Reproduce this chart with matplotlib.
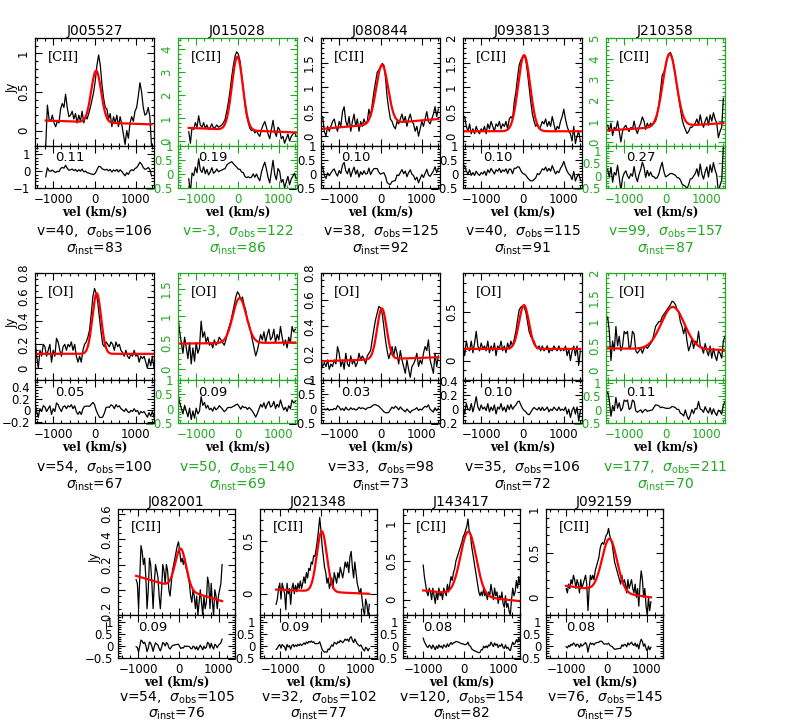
import numpy as np
import matplotlib
matplotlib.use('Agg')
import matplotlib.pyplot as plt
from matplotlib.ticker import MultipleLocator, FuncFormatter

GREEN = '#22a822'

# ---------------- data ----------------
names = ['J005527', 'J015028', 'J080844', 'J093813', 'J210358',
         '', '', '', '', '',
         'J082001', 'J021348', 'J143417', 'J092159']
lines = ['[CII]'] * 5 + ['[OI]'] * 5 + ['[CII]'] * 4
highlight = [False, True, False, False, True,
             False, True, False, False, True,
             False, False, False, False]
vel_fit = [40, -3, 38, 40, 99, 54, 50, 33, 35, 177, 54, 32, 120, 76]
sig_obs = [106, 122, 125, 115, 157, 100, 140, 98, 106, 211, 105, 102, 154, 145]
sig_inst = [83, 86, 92, 91, 87, 67, 69, 73, 72, 70, 76, 77, 82, 75]
resid_rms = ['0.11', '0.19', '0.10', '0.10', '0.27', '0.05', '0.09', '0.03',
             '0.10', '0.11', '0.09', '0.09', '0.08', '0.08']
# fitted Gaussian (drawn width) + linear continuum
fit_amp = [0.67, 3.2, 1.2, 1.55, 3.5, 0.51, 0.84, 0.38, 0.45, 0.87, 0.32, 0.57, 0.83, 0.6]
fit_width = [120, 132, 145, 145, 165, 105, 165, 115, 120, 280, 135, 125, 195, 185]
cont_left = [0.13, 0.57, 0.15, 0.10, 0.55, 0.12, 0.48, 0.14, 0.12, 0.45, 0.11, 0.04, 0.12, 0.13]
cont_right = [0.08, 0.37, 0.35, 0.10, 0.90, 0.12, 0.50, 0.17, 0.12, 0.42, -0.09, 0.00, -0.02, 0.00]

v_start = [-1180, -1180, -1400, -1400, -1400,
           -1440, -1440, -1440, -1440, -1440,
           -1050, -1100, -1000, -1000]
v_step = [40] * 10 + [30] * 4

f01 = [-0.2, 0.33, 0.15, 0.12, 0.2, 0.1, 0.05, 0.12, 0.1, 0.28, 0.35, 0.3, 0.47, 0.3,
       0.18, 0.2, 0.25, 0.15, 0.22, 0.1, 0.2, 0.12, 0.25, 0.1, 0.18, 0.15, 0.22, 0.3,
       0.4, 0.5, 0.65, 0.85, 0.98, 0.85, 0.6, 0.42, 0.3, 0.28, 0.15, 0.22, 0.05, 0.18,
       0.1, 0.2, 0.05, 0.18, 0.08, -0.05, -0.18, 0.0, -0.1, 0.1, 0.18, 0.12, 0.25, 0.3,
       0.45, 0.62, 0.5, 0.3, 0.2, 0.22, 0.3, 0.18, -0.2]
f02 = [0.4, -0.1, 0.6, 0.5, 0.8, 0.6, 1.1, 0.7, 0.6, 0.8, 0.55, 0.7, 0.5, 0.6, 0.75,
       0.55, 0.6, 0.7, 0.6, 0.65, 0.7, 0.8, 0.95, 1.3, 1.7, 2.2, 2.8, 3.3, 3.7, 3.9,
       3.8, 3.5, 2.9, 2.3, 1.6, 1.1, 0.8, 0.55, 0.45, 0.5, 0.35, 0.45, 0.3, 0.2, 0.5,
       0.7, 0.85, 0.6, 0.3, 0.1, 0.5, 0.9, 0.4, 0.2, 0.6, 0.5, 0.1, 0.2, -0.1, 0.1,
       0.3, 0.0, 0.2, 0.3, 0.4, 0.2]
f03 = [0.4, 0.1, 0.0, 0.2, 0.1, 0.2, 0.3, 0.35, 0.2, 0.1, 0.3, 0.2, 0.5, 0.6, 0.3,
       0.2, 0.4, 0.1, 0.3, 0.45, 0.2, 0.35, 0.1, 0.3, 0.2, 0.35, 0.25, 0.3, 0.55, 0.4,
       0.65, 0.9, 1.1, 1.3, 1.35, 1.4, 1.48, 1.45, 1.2, 0.8, 0.55, 0.35, 0.3, 0.2, 0.15,
       0.3, 0.25, 0.35, 0.45, 0.3, 0.4, 0.2, 0.35, 0.45, 0.3, 0.25, 0.1, 0.2, 0.0, 0.15,
       0.3, 0.2, 0.35, 0.5, 0.3, 0.25, 0.35, 0.45, 0.6, 0.4, 0.55]
f04 = [0.4, 0.2, 0.1, 0.25, 0.05, 0.15, 0.05, 0.2, 0.1, 0.05, 0.15, 0.1, 0.2, 0.05,
       0.25, 0.15, 0.3, 0.2, 0.1, 0.25, 0.2, 0.3, 0.15, 0.25, 0.2, 0.3, 0.15, 0.35, 0.4,
       0.35, 0.7, 0.9, 1.2, 1.45, 1.55, 1.62, 1.65, 1.55, 1.3, 1.0, 0.7, 0.45, 0.3, 0.2,
       0.25, 0.15, 0.2, 0.3, 0.25, 0.35, 0.2, 0.3, 0.2, 0.4, 0.25, 0.1, 0.2, 0.15, 0.3,
       0.4, 0.55, 0.35, 0.2, 0.1, 0.05, -0.1, 0.2, -0.15, 0.0, 0.1, -0.1]
f05 = [0.8, 0.5, 0.9, 0.3, 0.7, 0.6, 1.0, 0.5, 0.0, 0.5, 0.7, 0.8, 0.6, 0.5, 0.7, 0.6,
       1.0, 0.6, 0.4, 0.7, 0.9, 1.2, 1.0, 0.6, 0.9, 0.7, 0.9, 0.8, 0.9, 1.0, 1.3, 1.8,
       2.5, 3.2, 3.35, 3.6, 4.0, 4.25, 4.3, 4.1, 3.7, 3.2, 2.6, 2.1, 1.6, 1.1, 0.8, 0.6,
       0.4, 0.5, 0.7, 0.7, 0.8, 0.9, 1.1, 0.8, 1.3, 0.9, 0.7, 1.0, 1.2, 0.8, 1.3, 1.0,
       1.4, 1.1, 0.9, 0.2, 0.5, 0.7, 2.1]
f06 = [0.25, 0.1, 0.0, 0.15, 0.1, 0.2, 0.18, 0.1, 0.15, 0.2, 0.05, 0.15, 0.1, 0.25,
       0.22, 0.15, 0.1, 0.18, 0.2, 0.15, 0.2, 0.18, 0.22, 0.15, 0.2, 0.1, 0.05, 0.1,
       0.05, 0.15, 0.2, 0.22, 0.26, 0.32, 0.45, 0.6, 0.67, 0.63, 0.55, 0.42, 0.3, 0.2,
       0.18, 0.22, 0.2, 0.18, 0.22, 0.2, 0.15, 0.22, 0.18, 0.2, 0.15, 0.13, 0.1, 0.15,
       0.1, 0.08, 0.12, 0.1, 0.15, 0.1, 0.12, 0.05, 0.1, 0.08, 0.1, 0.05, 0.0, 0.08,
       0.02, 0.1, 0.0]
f07 = [1.0, 0.7, 0.5, 0.3, 0.6, 0.4, 0.2, 0.5, 0.1, 0.4, 0.15, 0.5, 0.3, 0.4, 0.9,
       0.6, 0.7, 0.5, 0.6, 0.45, 0.5, 0.4, 0.55, 0.45, 0.5, 0.6, 0.55, 0.5, 0.45, 0.55,
       0.7, 0.8, 0.9, 1.05, 1.2, 1.35, 1.45, 1.4, 1.3, 1.35, 1.2, 1.1, 0.9, 0.85, 0.7,
       0.55, 0.4, 0.25, 0.35, 0.5, 0.65, 0.55, 0.7, 0.5, 0.65, 0.75, 0.55, 0.6, 0.75,
       0.5, 0.65, 0.55, 0.8, 0.6, 0.45, 0.55, 0.4, 0.6, 0.5, 0.8, 0.7, 0.75]
f08 = [0.15, 0.1, 0.13, 0.1, 0.15, 0.08, 0.12, 0.1, 0.15, 0.12, 0.25, 0.2, 0.1, 0.15,
       0.08, 0.2, 0.12, 0.1, 0.18, 0.12, 0.15, 0.1, 0.13, 0.2, 0.15, 0.18, 0.16, 0.12,
       0.18, 0.2, 0.22, 0.3, 0.38, 0.45, 0.5, 0.55, 0.54, 0.5, 0.4, 0.3, 0.22, 0.16, 0.2,
       0.25, 0.18, 0.25, 0.2, 0.12, 0.22, 0.15, 0.1, 0.05, 0.15, 0.08, 0.02, 0.1, 0.12,
       0.15, 0.2, 0.1, 0.15, 0.12, 0.2, 0.25, 0.22, 0.3, 0.15, 0.1, 0.05, 0.2, 0.1, 0.18]
f09 = [0.15, 0.05, 0.2, 0.12, 0.1, 0.2, 0.08, 0.18, 0.3, 0.15, 0.1, 0.18, 0.12, 0.15,
       0.1, 0.2, 0.08, 0.15, 0.1, 0.18, 0.05, 0.15, 0.12, 0.2, 0.1, 0.15, 0.08, 0.18,
       0.12, 0.2, 0.15, 0.22, 0.3, 0.42, 0.52, 0.55, 0.56, 0.55, 0.5, 0.4, 0.3, 0.25,
       0.22, 0.2, 0.15, 0.12, 0.15, 0.1, 0.15, 0.1, 0.12, 0.15, 0.08, 0.12, 0.1, 0.15,
       0.12, 0.1, 0.15, 0.1, 0.12, 0.1, 0.15, 0.05, 0.12, 0.0, 0.1, 0.15, 0.05, 0.15,
       -0.05, 0.1]
f10 = [1.0, 1.1, 0.8, 0.2, 0.6, 0.4, 0.9, 0.5, 0.7, 0.4, 0.5, 0.8, 0.75, 0.8, 0.45,
       0.5, 0.8, 0.75, 0.4, 0.35, 0.4, 0.45, 0.35, 0.45, 0.5, 0.45, 0.5, 0.55, 0.6,
       0.75, 0.9, 0.95, 1.0, 1.0, 1.1, 1.15, 1.2, 1.25, 1.3, 1.35, 1.42, 1.4, 1.35,
       1.25, 1.2, 1.0, 0.9, 0.75, 0.9, 0.6, 0.4, 0.5, 0.65, 0.45, 0.6, 0.55, 0.8, 0.5,
       0.45, 0.35, 0.55, 0.4, 0.3, 0.5, 0.25, 0.45, 0.3, 0.2, 0.4, 0.35, 0.25, 0.6, 0.7]
f11 = [0.08, 0.05, -0.15, 0.1, 0.35, 0.3, 0.2, 0.25, 0.1, -0.15, 0.0, 0.25, 0.2, 0.05,
       -0.15, 0.05, 0.2, 0.15, 0.1, -0.05, -0.15, 0.0, 0.2, 0.15, 0.05, 0.2, 0.15, 0.0,
       -0.05, 0.05, 0.15, 0.2, 0.25, 0.3, 0.35, 0.38, 0.3, 0.22, 0.25, 0.2, 0.25, 0.18,
       0.15, 0.1, 0.05, -0.05, -0.1, 0.0, -0.05, -0.15, -0.05, -0.2, -0.1, 0.0, -0.1,
       -0.2, -0.05, -0.15, -0.1, 0.1, 0.05, -0.15, 0.05, -0.1, -0.2, 0.0, -0.05, -0.15,
       -0.05, 0.0, 0.05, 0.2]
f12 = [-0.1, -0.05, 0.05, 0.1, -0.05, 0.1, 0.05, 0.0, -0.15, 0.1, 0.0, 0.05, -0.1, 0.05,
       0.1, 0.0, 0.08, 0.02, 0.1, 0.05, 0.12, 0.05, 0.1, 0.16, 0.1, 0.2, 0.15, 0.24,
       0.22, 0.3, 0.28, 0.36, 0.35, 0.42, 0.5, 0.6, 0.72, 0.6, 0.45, 0.35, 0.25, 0.2, 0.1,
       0.15, 0.05, 0.1, 0.15, 0.05, 0.2, 0.15, 0.1, 0.2, 0.15, 0.25, 0.2, 0.15, 0.22,
       0.3, 0.25, 0.3, 0.2, 0.35, 0.4, 0.25, 0.15, 0.3, 0.2, 0.1, 0.05, 0.0, 0.05, -0.05,
       -0.15, -0.2, -0.05, -0.1, -0.2, -0.1]
f13 = [0.45, 0.3, 0.2, 0.1, 0.05, 0.15, 0.1, 0.0, 0.15, 0.05, -0.05, 0.1, 0.0, 0.15,
       0.05, 0.1, 0.0, 0.15, 0.1, 0.05, 0.2, 0.1, 0.2, 0.3, 0.25, 0.35, 0.4, 0.5, 0.55,
       0.6, 0.65, 0.7, 0.75, 0.82, 0.85, 0.9, 0.95, 1.05, 0.9, 0.85, 0.7, 0.6, 0.5, 0.4,
       0.3, 0.2, 0.1, 0.05, 0.1, 0.05, 0.15, 0.05, 0.1, 0.0, 0.1, 0.05, 0.2, 0.1, 0.0,
       0.15, 0.05, 0.1, -0.05, 0.05, 0.0, 0.1, -0.05, -0.1, 0.05, -0.1, -0.05, -0.15,
       -0.2, 0.0, 0.15, 0.05, 0.1, 0.25, 0.15, 0.3, 0.2]
f14 = [0.1, 0.05, 0.15, 0.1, 0.2, 0.15, 0.25, 0.2, 0.1, 0.2, 0.15, 0.05, 0.2, 0.1,
       0.15, 0.2, 0.25, 0.15, -0.15, 0.1, 0.25, 0.2, 0.25, 0.2, 0.3, 0.35, 0.4, 0.45,
       0.55, 0.6, 0.62, 0.6, 0.65, 0.7, 0.72, 0.78, 0.7, 0.65, 0.6, 0.5, 0.4, 0.35, 0.3,
       0.25, 0.2, 0.15, 0.25, 0.15, 0.2, 0.15, 0.05, 0.2, 0.1, 0.15, 0.2, 0.1, 0.05,
       0.15, 0.0, 0.1, -0.1, 0.15, 0.3, 0.2, 0.0, 0.1, -0.1, -0.2, 0.0, -0.15, -0.05]
fluxes = [f01, f02, f03, f04, f05, f06, f07, f08, f09, f10, f11, f12, f13, f14]

main_ylim = [(-0.2, 1.2), (-0.22, 4.5), (-0.2, 2.0), (-0.2, 2.0), (-0.2, 5.0),
             (-0.1, 0.8), (-0.2, 1.8), (0.0, 0.8), (-0.2, 0.9), (-0.2, 2.0),
             (-0.2, 0.64), (-0.2, 0.8), (-0.2, 1.18), (-0.2, 1.0)]
main_major = [0.5, 1, 0.5, 0.5, 1, 0.2, 0.5, 0.2, 0.5, 0.5, 0.2, 0.5, 0.5, 0.5]
res_ylim = [(-1, 1.5), (-0.5, 1), (-0.5, 1), (-0.5, 1), (-0.5, 1.2),
            (-0.22, 0.53), (-0.5, 1), (-0.5, 1), (-0.2, 0.42), (-0.5, 1.1),
            (-0.5, 1.3), (-0.5, 1.3), (-0.5, 1.3), (-0.5, 1.3)]
res_major = [1, 0.5, 0.5, 0.5, 0.5, 0.2, 0.5, 0.5, 0.2, 0.5, 0.5, 0.5, 0.5, 0.5]
row_xlim = [(-1440, 1440), (-1440, 1440), (-1500, 1400)]

# ---------------- layout (pixels) ----------------
W, H = 805, 726
fig = plt.figure(figsize=(W / 100, H / 100), dpi=100)
row_lefts = [[35, 178, 321, 463, 606], [35, 178, 321, 463, 606], [118, 260, 403, 546]]
row_width = [119, 119, 117]
row_top = [38, 273, 509]
row_mid = [146, 380, 615]
row_bot = [188, 423, 658]
row_xlab = [212, 447, 682]
row_txt1 = [232, 468, 698]
row_txt2 = [249, 485, 714]


def fax(l, t, w, h):
    return fig.add_axes([l / W, 1 - (t + h) / H, w / W, h / H])


def fmt(x, pos):
    s = '%g' % x
    if s == '-0':
        s = '0'
    return s.replace('-', '\u2212')


def style(ax, col, ymaj):
    ax.xaxis.set_major_locator(MultipleLocator(1000))
    ax.xaxis.set_minor_locator(MultipleLocator(200))
    ax.yaxis.set_major_locator(MultipleLocator(ymaj))
    ax.yaxis.set_minor_locator(MultipleLocator(ymaj / 5 if ymaj != 0.2 else 0.05))
    ax.xaxis.set_major_formatter(FuncFormatter(fmt))
    ax.yaxis.set_major_formatter(FuncFormatter(fmt))
    ax.tick_params(which='both', direction='in', top=True, right=True,
                   color=col, labelcolor=col, labelsize=8.5, width=0.8)
    ax.tick_params(which='major', length=5)
    ax.tick_params(which='minor', length=2.5)
    for s in ax.spines.values():
        s.set_color(col)
        s.set_linewidth(0.9)
    for lab in ax.get_xticklabels() + ax.get_yticklabels():
        lab.set_family('DejaVu Sans')


idx = 0
for r in range(3):
    for c, left in enumerate(row_lefts[r]):
        i = idx
        idx += 1
        col = GREEN if highlight[i] else 'black'
        w = row_width[r]
        axm = fax(left, row_top[r], w, row_mid[r] - row_top[r])
        axr = fax(left, row_mid[r], w, row_bot[r] - row_mid[r])

        f = np.array(fluxes[i])
        v = v_start[i] + v_step[i] * np.arange(len(f))

        def model(x):
            cont = cont_left[i] + (cont_right[i] - cont_left[i]) * (x - v[0]) / (v[-1] - v[0])
            return cont + fit_amp[i] * np.exp(-0.5 * ((x - vel_fit[i]) / fit_width[i]) ** 2)

        vf = np.linspace(v[0], v[-1], 400)
        axm.plot(v, f, color='black', lw=0.9)
        axm.plot(vf, model(vf), color='red', lw=1.6)
        axr.plot(v, f - model(v), color='black', lw=0.9)

        for ax in (axm, axr):
            ax.set_xlim(*row_xlim[r])
        axm.set_ylim(*main_ylim[i])
        axr.set_ylim(*res_ylim[i])
        style(axm, col, main_major[i])
        style(axr, col, res_major[i])
        axm.tick_params(labelbottom=False)
        axm.tick_params(axis='y', labelrotation=90)
        for lab in axm.get_yticklabels():
            lab.set_va('center')

        axm.text(0.11, 0.83, lines[i], transform=axm.transAxes, ha='left', va='center',
                 fontsize=9.5, family='DejaVu Serif')
        axr.text(0.17, 0.72, resid_rms[i], transform=axr.transAxes, ha='left', va='center',
                 fontsize=9.5, family='DejaVu Sans')
        if names[i]:
            axm.set_title(names[i], fontsize=10, family='DejaVu Sans', pad=2)
        cx = (left + w / 2) / W
        fig.text(cx, 1 - row_xlab[r] / H, 'vel (km/s)', ha='center', va='center',
                 fontsize=8.5, family='DejaVu Serif', fontweight='bold')
        fig.text(cx, 1 - row_txt1[r] / H,
                 r'v=%d,  $\sigma_{\rm obs}$=%d' % (vel_fit[i], sig_obs[i]),
                 ha='center', va='center', fontsize=10, color=col)
        fig.text(cx, 1 - row_txt2[r] / H, r'$\sigma_{\rm inst}$=%d' % sig_inst[i],
                 ha='center', va='center', fontsize=10, color=col)
        if c == 0:
            yc = (row_top[r] + row_mid[r]) / 2 - 4
            fig.text((left - 23) / W, 1 - yc / H, 'Jy', rotation=90, ha='center',
                     va='center', fontsize=8.5)

fig.savefig('out.png', dpi=100)
